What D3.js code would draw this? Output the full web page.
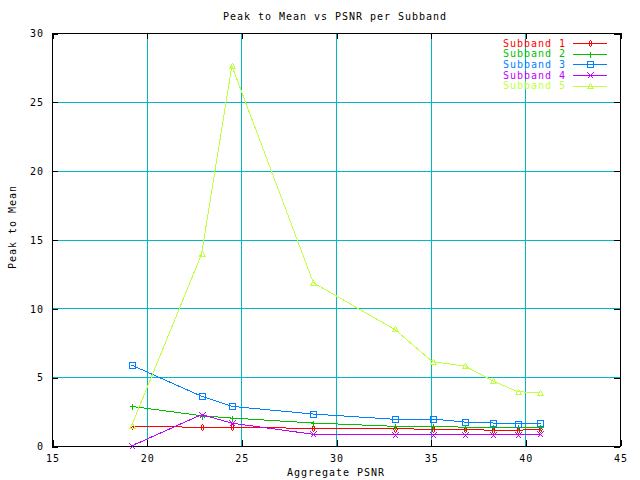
<!DOCTYPE html>
<html><head><meta charset="utf-8">
<script src="https://cdn.jsdelivr.net/npm/d3@7"></script>
<style>body{margin:0;background:#fff}svg{display:block}text{font-family:"DejaVu Sans Mono",monospace;font-size:10px;letter-spacing:0.98px}</style>
</head><body>
<script>
const psnr = [19.2, 22.9, 24.5, 28.8, 33.1, 35.1, 36.8, 38.3, 39.6, 40.8];
const subband1 = [1.43, 1.36, 1.36, 1.28, 1.26, 1.21, 1.21, 1.14, 1.14, 1.23];
const subband2 = [2.88, 2.2, 2.03, 1.67, 1.43, 1.45, 1.36, 1.36, 1.36, 1.36];
const subband3 = [5.88, 3.61, 2.88, 2.32, 1.94, 1.96, 1.74, 1.67, 1.6, 1.67];
const subband4 = [0.0, 2.28, 1.66, 0.85, 0.8, 0.8, 0.8, 0.8, 0.8, 0.87];
const subband5 = [1.47, 13.94, 27.62, 11.86, 8.47, 6.12, 5.81, 4.72, 3.95, 3.85];
const seriesNames = ["Subband 1", "Subband 2", "Subband 3", "Subband 4", "Subband 5"];
const seriesColors = ["#ff0000", "#00c000", "#0080ff", "#c000ff", "#c0ff40"];
const markers = ["diamond", "plus", "square", "cross", "triangle"];
const xTicks = [15, 20, 25, 30, 35, 40, 45];
const yTicks = [0, 5, 10, 15, 20, 25, 30];
const title = "Peak to Mean vs PSNR per Subband";
const xLabel = "Aggregate PSNR";
const yLabel = "Peak to Mean";
const allSeries = [subband1, subband2, subband3, subband4, subband5];

(function () {
const W = 640, H = 480;
const L = 52, R = 620, T = 33, B = 446;
const svg = d3.select("body").append("svg").attr("width", W).attr("height", H);
const x = d3.scaleLinear().domain([15, 45]).range([L, R]);
const y = d3.scaleLinear().domain([0, 30]).range([B, T]);
const gridColor = "#00b8c4";
const crisp = v => Math.round(v) + 0.5;

const g = svg.append("g").attr("shape-rendering", "crispEdges");
xTicks.slice(1, -1).forEach(t => {
  g.append("line").attr("x1", crisp(x(t))).attr("x2", crisp(x(t))).attr("y1", T).attr("y2", B).attr("stroke", gridColor);
});
yTicks.slice(1, -1).forEach(t => {
  g.append("line").attr("x1", L).attr("x2", R).attr("y1", crisp(y(t))).attr("y2", crisp(y(t))).attr("stroke", gridColor);
});

function styleAxis(sel) {
  sel.select(".domain").remove();
  sel.selectAll("line").attr("stroke", "#000").attr("shape-rendering", "crispEdges");
  sel.selectAll("text").attr("fill", "#000").style("font-size", "10px").attr("font-family", "DejaVu Sans Mono");
}
const axB = svg.append("g").attr("transform", `translate(0.5,${B})`)
  .call(d3.axisBottom(x).tickValues(xTicks).tickSizeInner(-6).tickPadding(9).tickFormat(d3.format("d")));
styleAxis(axB);
const axT = svg.append("g").attr("transform", `translate(0.5,${T})`)
  .call(d3.axisTop(x).tickValues(xTicks).tickSizeInner(-6).tickFormat(""));
styleAxis(axT);
const axL = svg.append("g").attr("transform", `translate(${L},0.5)`)
  .call(d3.axisLeft(y).tickValues(yTicks).tickSizeInner(-6).tickPadding(8).tickFormat(d3.format("d")));
styleAxis(axL);
const axR = svg.append("g").attr("transform", `translate(${R},0.5)`)
  .call(d3.axisRight(y).tickValues(yTicks).tickSizeInner(-6).tickFormat(""));
styleAxis(axR);

svg.append("rect").attr("x", L + 0.5).attr("y", T + 0.5).attr("width", R - L).attr("height", B - T)
  .attr("fill", "none").attr("stroke", "#000").attr("shape-rendering", "crispEdges");

function marker(sel, type, cx, cy, color) {
  const s = 3;
  let d;
  if (type === "diamond") d = `M${cx},${cy - s}L${cx + 2},${cy}L${cx},${cy + s}L${cx - 2},${cy}Z`;
  else if (type === "plus") d = `M${cx - s},${cy}H${cx + s}M${cx},${cy - s}V${cy + s}`;
  else if (type === "square") d = `M${cx - s},${cy - s}H${cx + s}V${cy + s}H${cx - s}Z`;
  else if (type === "cross") d = `M${cx - s},${cy - s}L${cx + s},${cy + s}M${cx - s},${cy + s}L${cx + s},${cy - s}`;
  else d = `M${cx},${cy - s}L${cx + s},${cy + 2}L${cx - s},${cy + 2}Z`;
  sel.append("path").attr("d", d).attr("fill", "none").attr("stroke", color).attr("stroke-width", 1)
    .attr("shape-rendering", "crispEdges");
}

const line = d3.line().x(d => x(d[0])).y(d => y(d[1]));
allSeries.forEach((vals, i) => {
  const pts = psnr.map((p, j) => [p, vals[j]]);
  const gs = svg.append("g");
  gs.append("path").attr("d", line(pts)).attr("fill", "none").attr("stroke", seriesColors[i])
    .attr("stroke-width", 1).attr("shape-rendering", "crispEdges");
  pts.forEach(p => marker(gs, markers[i], Math.round(x(p[0])) + 0.5, Math.round(y(p[1])) + 0.5, seriesColors[i]));
});

seriesNames.forEach((n, i) => {
  const ly = 43 + i * 10.7;
  svg.append("text").attr("x", 566).attr("y", ly).attr("dy", "0.35em").attr("text-anchor", "end")
    .attr("fill", seriesColors[i]).text(n);
  svg.append("line").attr("x1", 573).attr("x2", 607).attr("y1", Math.round(ly) + 0.5).attr("y2", Math.round(ly) + 0.5)
    .attr("stroke", seriesColors[i]).attr("shape-rendering", "crispEdges");
  marker(svg, markers[i], 590.5, Math.round(ly) + 0.5, seriesColors[i]);
});

svg.append("text").attr("x", 335).attr("y", 16).attr("dy", "0.35em").attr("text-anchor", "middle").attr("fill", "#000").text(title);
svg.append("text").attr("x", 336).attr("y", 472).attr("dy", "0.35em").attr("text-anchor", "middle").attr("fill", "#000").text(xLabel);
svg.append("text").attr("transform", "translate(12,227) rotate(-90)").attr("dy", "0.35em").attr("text-anchor", "middle").attr("fill", "#000").text(yLabel);
})();
</script>
</body></html>
